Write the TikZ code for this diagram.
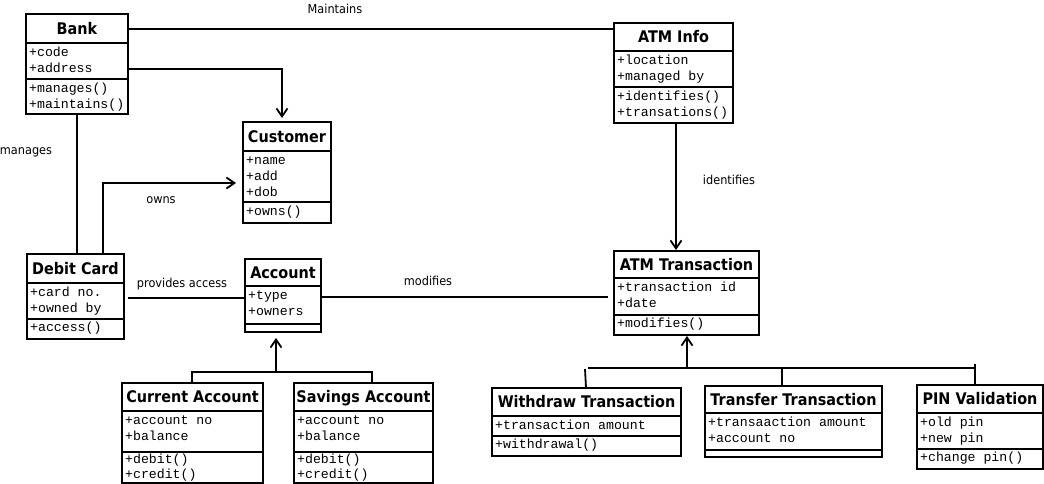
\documentclass[tikz,border=0pt]{standalone}
\usepackage{fontspec}
\setmainfont{DejaVu Sans}
\setmonofont{Liberation Mono}
\newfontfamily\ttlfont[FakeStretch=0.9]{DejaVu Sans}
\newfontfamily\lblfont[FakeStretch=0.92]{DejaVu Sans}
\usetikzlibrary{calc,arrows.meta}

\tikzset{
 cls/.style={draw, line width=1.8pt, rectangle, inner sep=0pt, outer sep=0pt, anchor=north west},
 sep/.style={line width=1.6pt},
 ttl/.style={anchor=base, inner sep=0pt, font=\ttlfont\bfseries\fontsize{16}{18}\selectfont},
 attr/.style={anchor=base west, inner sep=0pt, font=\ttfamily\fontsize{13.2}{16}\selectfont},
 lbl/.style={anchor=base, inner sep=0pt, font=\lblfont\fontsize{12.3}{14}\selectfont},
 conn/.style={line width=1.8pt},
 arr/.style={-{Straight Barb[length=8pt,width=11pt]}},
}

\def\linepitch{16}
\newcommand\umlbox[9]{%
 \node[cls, minimum width={#4pt-#2pt}, minimum height={#7pt-#3pt}] (#1) at (#2,#3) {};
 \draw[sep] (#2,#5) -- (#4,#5);
 \draw[sep] (#2,#6) -- (#4,#6);
 \node[ttl] (#1-t) at ({(#2+#4)/2},{(#3+#5)/2+5.8}) {#8};
 \foreach \itm [count=\nn] in {#9} {\node[attr] (#1-a\nn) at ({#2+3},{#5+13.5+(\nn-1)*16}) {\itm};}%
}
\newcommand\umlmeth[4]{%
 \foreach \itm [count=\nn] in {#4} {\node[attr] (#1-m\nn) at ({#2+3},{#3+13.5+(\nn-1)*\linepitch}) {\itm};}%
}

\begin{document}
\begin{tikzpicture}[x=1pt,y=-1pt]
\useasboundingbox (0,0) rectangle (1044,484);
\fill[white] (0,0) rectangle (1044,484);

\umlbox{bank}{26}{14}{128}{43}{79}{114}{Bank}{+code,+address}
\umlmeth{bank}{26}{79}{+manages(),+maintains()}

\umlbox{customer}{243}{122}{331}{151}{202}{223}{Customer}{+name,+add,+dob}
\umlmeth{customer}{243}{202}{+owns()}

\umlbox{atminfo}{614}{23}{733}{51}{87}{123}{ATM Info}{+location,+managed by}
\umlmeth{atminfo}{614}{87}{+identifies(),+transations()}

\umlbox{debitcard}{27}{254}{124}{283}{319}{339}{Debit Card}{+card no.,+owned by}
\umlmeth{debitcard}{27}{318}{+access()}

\umlbox{account}{245}{259}{321}{286}{324}{332}{Account}{+type,+owners}

\umlbox{atmtrans}{614}{251}{759}{278}{315}{335}{ATM Transaction}{+transaction id,+date}
\umlmeth{atmtrans}{614}{314}{+modifies()}

\def\linepitch{15}
\umlbox{curacc}{122}{383}{263}{411}{452}{483}{Current Account}{+account no,+balance}
\umlmeth{curacc}{122}{450}{+debit(),+credit()}

\umlbox{savacc}{294}{383}{433}{411}{452}{483}{Savings Account}{+account no,+balance}
\umlmeth{savacc}{294}{450}{+debit(),+credit()}
\def\linepitch{16}

\umlbox{withdraw}{492}{388}{681}{416}{436}{456}{Withdraw Transaction}{+transaction amount}
\umlmeth{withdraw}{492}{435}{+withdrawal()}

\umlbox{transfer}{705}{386}{882}{413}{450}{457}{Transfer Transaction}{+transaaction amount,+account no}

\umlbox{pin}{917}{385}{1043}{413}{449}{469}{PIN Validation}{+old pin,+new pin}
\umlmeth{pin}{917}{448}{+change pin()}

% connectors
\draw[conn] ($(bank.north east)+(0,15)$) -- ($(atminfo.north west)+(0,6)$);
\draw[conn,arr,shorten >=4pt] ($(bank.north east)+(0,55)$) -| ($(customer.north west)+(39,0)$);
\draw[conn] ($(bank.south west)+(51,0)$) -- ($(debitcard.north west)+(50,0)$);
\draw[conn,arr,shorten >=7pt] ($(debitcard.north west)+(76,0)$) |- ($(customer.north west)+(0,61)$);
\draw[conn] ($(debitcard.north east)+(4,44)$) -- ($(account.north west)+(0,39)$);
\draw[conn,shorten >=6pt] ($(account.north east)+(0,38)$) -- ($(atmtrans.north west)+(0,46)$);
\draw[conn,arr,shorten >=1pt] ($(atminfo.south west)+(62,0)$) -- ($(atmtrans.north west)+(62,0)$);

\draw[conn] ($(curacc.north west)+(70,0)$) |- ($(savacc.north west)+(78,-11)$) -- ($(savacc.north west)+(78,0)$);
\draw[conn,arr,shorten >=6pt] ($(account.south west)+(31,40)$) -- ($(account.south west)+(31,0)$);

\draw[conn] ($(withdraw.north west)+(93,-19)$) -- ($(withdraw.north west)+(94,0)$);
\draw[conn] ($(withdraw.north west)+(96,-20)$) -- ($(pin.north west)+(58,-17)$);
\draw[conn] ($(transfer.north west)+(77,-18)$) -- ($(transfer.north west)+(77,0)$);
\draw[conn] ($(pin.north west)+(58,-21)$) -- ($(pin.north west)+(58,0)$);
\draw[conn,arr,shorten >=1pt] ($(atmtrans.south west)+(73,33)$) -- ($(atmtrans.south west)+(73,0)$);

% labels
\node[lbl] (lmaint) at (335,13.5) {Maintains};
\node[lbl] (lmanages) at (26,154) {manages};
\node[lbl] (lowns) at (161,203.5) {owns};
\node[lbl] (lprov) at (182,287) {provides access};
\node[lbl] (lmod) at (428,285) {modifies};
\node[lbl] (lident) at (729,184) {identifies};
\end{tikzpicture}
\end{document}
